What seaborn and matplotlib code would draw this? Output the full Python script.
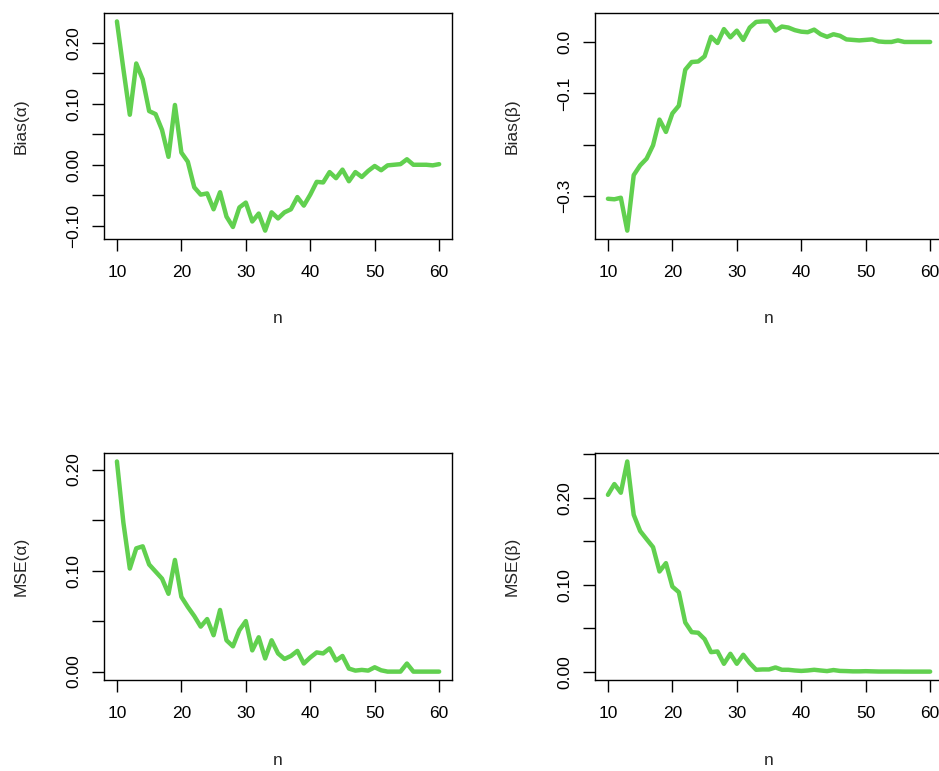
"""
Bias and MSE of the alpha / beta estimators against sample size n.
"""

import numpy as np
import pandas as pd
import seaborn as sns
from matplotlib import pyplot as plt

n = np.arange(10, 61)

bias_alpha = [
    0.235, 0.157, 0.082, 0.166, 0.140, 0.088, 0.083, 0.057, 0.013, 0.098,
    0.020, 0.005, -0.037, -0.049, -0.047, -0.073, -0.045, -0.085, -0.102, -0.070,
    -0.062, -0.093, -0.080, -0.108, -0.078, -0.088, -0.078, -0.073, -0.053, -0.067,
    -0.049, -0.028, -0.029, -0.012, -0.022, -0.008, -0.027, -0.012, -0.020, -0.010,
    -0.002, -0.009, -0.001, 0.000, 0.001, 0.009, 0.000, 0.000, 0.000, -0.001,
    0.001,
]
bias_beta = [
    -0.305, -0.306, -0.303, -0.367, -0.259, -0.240, -0.227, -0.201, -0.151, -0.175,
    -0.139, -0.124, -0.054, -0.039, -0.038, -0.028, 0.010, -0.002, 0.025, 0.009,
    0.022, 0.004, 0.028, 0.039, 0.040, 0.040, 0.022, 0.030, 0.028, 0.023,
    0.020, 0.019, 0.024, 0.015, 0.010, 0.015, 0.012, 0.005, 0.004, 0.003,
    0.004, 0.005, 0.001, 0.000, 0.000, 0.003, 0.000, 0.000, 0.000, 0.000,
    0.000,
]
mse_alpha = [
    0.208, 0.1475, 0.102, 0.122, 0.124, 0.106, 0.099, 0.092, 0.077, 0.1105,
    0.074, 0.064, 0.055, 0.0445, 0.052, 0.036, 0.061, 0.031, 0.025, 0.041,
    0.050, 0.021, 0.034, 0.013, 0.031, 0.018, 0.0125, 0.0155, 0.0205, 0.008,
    0.014, 0.019, 0.018, 0.023, 0.011, 0.0155, 0.003, 0.001, 0.0017, 0.001,
    0.0043, 0.0013, 0.0, 0.0, 0.0, 0.008, 0.0, 0.0, 0.0, 0.0,
    0.0,
]
mse_beta = [
    0.2036, 0.216, 0.206, 0.242, 0.1806, 0.162, 0.1526, 0.1434, 0.1154, 0.125,
    0.098, 0.0916, 0.0567, 0.0456, 0.0449, 0.0376, 0.0226, 0.0234, 0.0092, 0.0207,
    0.0092, 0.0196, 0.010, 0.0023, 0.0027, 0.0027, 0.005, 0.0023, 0.0023, 0.0015,
    0.001, 0.0015, 0.0023, 0.0015, 0.0008, 0.002, 0.001, 0.0008, 0.0005, 0.0005,
    0.0007, 0.0005, 0.0003, 0.0003, 0.0003, 0.0003, 0.0002, 0.0002, 0.0002, 0.0002,
    0.0002,
]

x_ticks = [10, 20, 30, 40, 50, 60]

# (label, values, tick positions, labelled ticks, format)
panels = [
    ("Bias(α)", bias_alpha, np.arange(-0.10, 0.201, 0.05), [-0.10, 0.0, 0.10, 0.20], "{:.2f}"),
    ("Bias(β)", bias_beta, np.arange(-0.3, 0.01, 0.1), [-0.3, -0.1, 0.0], "{:.1f}"),
    ("MSE(α)", mse_alpha, np.arange(0.0, 0.201, 0.05), [0.0, 0.10, 0.20], "{:.2f}"),
    ("MSE(β)", mse_beta, np.arange(0.0, 0.251, 0.05), [0.0, 0.10, 0.20], "{:.2f}"),
]

sns.set_style("ticks")
plt.rcParams["font.family"] = ["Liberation Sans", "DejaVu Sans"]
plt.rcParams["font.size"] = 12.5
plt.rcParams["xtick.labelsize"] = 12.5
plt.rcParams["ytick.labelsize"] = 12.5
plt.rcParams["axes.labelsize"] = 12.5
plt.rcParams["axes.linewidth"] = 1.0
plt.rcParams["axes.edgecolor"] = "black"
plt.rcParams["xtick.color"] = "black"
plt.rcParams["ytick.color"] = "black"
plt.rcParams["xtick.major.size"] = 8.5
plt.rcParams["ytick.major.size"] = 8.5
plt.rcParams["xtick.major.width"] = 1.0
plt.rcParams["ytick.major.width"] = 1.0

fig = plt.figure(figsize=(9.39, 7.71), dpi=100)
positions = [
    [0.1108, 0.690, 0.3706, 0.2931],
    [0.6337, 0.690, 0.3706, 0.2931],
    [0.1108, 0.118, 0.3706, 0.2944],
    [0.6337, 0.118, 0.3706, 0.2944],
]


def fmt(v, f):
    s = f.format(v + 0.0)
    return s.replace("-", "\u2212")


for pos, (label, vals, ticks, shown, f) in zip(positions, panels):
    ax = fig.add_axes(pos)
    df = pd.DataFrame({"n": n, "v": vals})
    sns.lineplot(data=df, x="n", y="v", ax=ax, color="#61D04F", linewidth=3.2)

    # R style 4% padding around the data range
    lo, hi = df["v"].min(), df["v"].max()
    pad = 0.04 * (hi - lo)
    ax.set_ylim(lo - pad, hi + pad)
    xpad = 0.04 * (n.max() - n.min())
    ax.set_xlim(n.min() - xpad, n.max() + xpad)

    ax.set_xticks(x_ticks)
    labels = [fmt(t, f) if any(abs(t - s) < 1e-9 for s in shown) else "" for t in ticks]
    ax.set_yticks(ticks, labels)
    ax.tick_params(axis="x", pad=10)
    ax.tick_params(axis="y", pad=8, labelrotation=90)
    for t in ax.get_yticklabels():
        t.set_va("center")

    ax.set_xlabel("n")
    ax.set_ylabel(label)
    ax.xaxis.set_label_coords(0.5, -0.32)
    ax.yaxis.set_label_coords(-0.217, 0.5)
    for s in ax.spines.values():
        s.set_visible(True)

plt.savefig("out.png", dpi=100)
